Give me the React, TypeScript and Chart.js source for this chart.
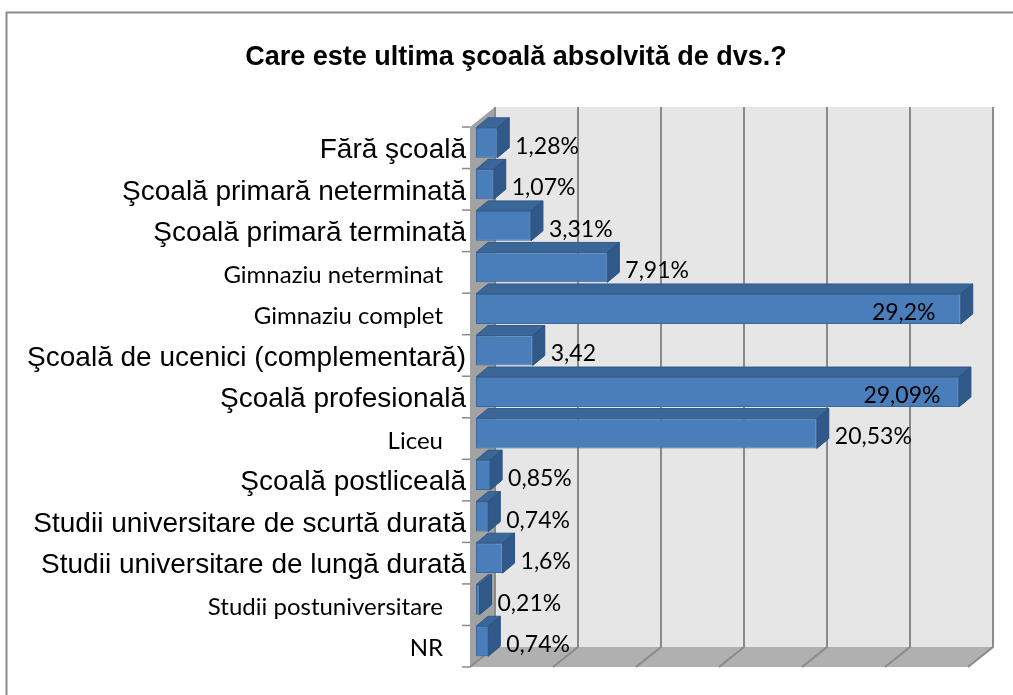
import React, { useEffect, useRef } from 'react';
import { Chart, registerables } from 'chart.js';

Chart.register(...registerables);

// ---------- data ----------
const categories = [
  'Fără şcoală',
  'Şcoală primară neterminată',
  'Şcoală primară terminată',
  'Gimnaziu neterminat',
  'Gimnaziu complet',
  'Şcoală de ucenici (complementară)',
  'Şcoală profesională',
  'Liceu',
  'Şcoală postliceală',
  'Studii universitare de scurtă durată',
  'Studii universitare de lungă durată',
  'Studii postuniversitare',
  'NR',
];
const values = [1.28, 1.07, 3.31, 7.91, 29.2, 3.42, 29.09, 20.53, 0.85, 0.74, 1.6, 0.21, 0.74];
const valueLabels = ['1,28%', '1,07%', '3,31%', '7,91%', '29,2%', '3,42', '29,09%', '20,53%', '0,85%', '0,74%', '1,6%', '0,21%', '0,74%'];
// font style used for each category label in the original
const categoryFontKind = ['sans', 'sans', 'sans', 'calibri', 'calibri', 'sans', 'sans', 'calibri', 'sans', 'sans', 'sans', 'calibri', 'calibri'];
const axisMin = 0;
const axisMax = 30;
const axisStep = 5;
const chartTitle = 'Care este ultima şcoală absolvită de dvs.?';

// ---------- styles ----------
const FRONT = { dx: -6, dy: 5 };   // front plane offset from the bar plane
const BACK = { dx: 19, dy: -15 };  // back wall offset from the bar plane
const BAR_DEPTH = { dx: 12, dy: -10 };
const SANS = '"Liberation Sans", Arial, sans-serif';
const CALIBRI = 'Lato, "Open Sans", sans-serif';

const poly = (ctx: CanvasRenderingContext2D, pts: number[][], fill: string, stroke?: string) => {
  ctx.beginPath();
  ctx.moveTo(pts[0][0], pts[0][1]);
  for (let i = 1; i < pts.length; i++) ctx.lineTo(pts[i][0], pts[i][1]);
  ctx.closePath();
  ctx.fillStyle = fill;
  ctx.fill();
  if (stroke) {
    ctx.strokeStyle = stroke;
    ctx.lineWidth = 1;
    ctx.stroke();
  }
};

const scene3d = {
  id: 'scene3d',
  beforeDraw(chart: any) {
    const { ctx, width, height } = chart;
    ctx.save();
    ctx.fillStyle = '#ffffff';
    ctx.fillRect(0, 0, width, height);
    ctx.strokeStyle = '#8C8C8C';
    ctx.lineWidth = 2;
    ctx.beginPath();
    ctx.moveTo(6.5, height + 5);
    ctx.lineTo(6.5, 12.5);
    ctx.lineTo(width + 5, 12.5);
    ctx.stroke();
    ctx.restore();
  },
  beforeDatasetsDraw(chart: any) {
    const { ctx, chartArea: a } = chart;
    const xs = chart.scales.x;
    const ys = chart.scales.y;
    const x0 = xs.getPixelForValue(axisMin);
    const x1 = xs.getPixelForValue(axisMax);
    ctx.save();
    // back wall
    ctx.fillStyle = '#E6E6E6';
    ctx.fillRect(x0 + BACK.dx, a.top + BACK.dy, x1 - x0, a.bottom - a.top);
    // floor
    poly(ctx, [
      [x0 + FRONT.dx, a.bottom + FRONT.dy],
      [x1 + FRONT.dx, a.bottom + FRONT.dy],
      [x1 + BACK.dx, a.bottom + BACK.dy],
      [x0 + BACK.dx, a.bottom + BACK.dy],
    ], '#B0B0B0');
    // left wall
    poly(ctx, [
      [x0 + FRONT.dx, a.top + FRONT.dy],
      [x0 + BACK.dx, a.top + BACK.dy],
      [x0 + BACK.dx, a.bottom + BACK.dy],
      [x0 + FRONT.dx, a.bottom + FRONT.dy],
    ], '#A2A2A2');
    // grid lines on back wall and floor
    ctx.strokeStyle = '#8A8A8A';
    ctx.lineWidth = 2;
    for (let v = axisMin; v <= axisMax; v += axisStep) {
      const px = xs.getPixelForValue(v);
      ctx.beginPath();
      ctx.moveTo(px + BACK.dx, a.top + BACK.dy);
      ctx.lineTo(px + BACK.dx, a.bottom + BACK.dy);
      ctx.lineTo(px + FRONT.dx, a.bottom + FRONT.dy);
      ctx.stroke();
    }
    // category tick marks on the front edge
    const n = categories.length;
    const band = (a.bottom - a.top) / n;
    ctx.strokeStyle = '#8A8A8A';
    ctx.lineWidth = 1.5;
    for (let i = 0; i <= n; i++) {
      const yy = (i < n ? ys.getPixelForValue(i) - band / 2 : ys.getPixelForValue(n - 1) + band / 2) + FRONT.dy;
      ctx.beginPath();
      ctx.moveTo(x0 + FRONT.dx, yy);
      ctx.lineTo(x0 + FRONT.dx - 8, yy);
      ctx.stroke();
    }
    // bar top & side faces
    const meta = chart.getDatasetMeta(0);
    meta.data.forEach((el: any) => {
      const p = el.getProps(['x', 'y', 'base', 'height'], true);
      const top = p.y - p.height / 2;
      const bot = p.y + p.height / 2;
      poly(ctx, [
        [p.base, top],
        [p.x, top],
        [p.x + BAR_DEPTH.dx, top + BAR_DEPTH.dy],
        [p.base + BAR_DEPTH.dx, top + BAR_DEPTH.dy],
      ], '#3B6698', '#30598A');
      poly(ctx, [
        [p.x, top],
        [p.x + BAR_DEPTH.dx, top + BAR_DEPTH.dy],
        [p.x + BAR_DEPTH.dx, bot + BAR_DEPTH.dy],
        [p.x, bot],
      ], '#30598A', '#2A5080');
    });
    ctx.restore();
  },
  afterDatasetsDraw(chart: any) {
    const { ctx, chartArea: a } = chart;
    const xs = chart.scales.x;
    const ys = chart.scales.y;
    const x0 = xs.getPixelForValue(axisMin);
    ctx.save();
    ctx.fillStyle = '#000000';
    ctx.textBaseline = 'middle';
    // category labels
    categories.forEach((c, i) => {
      const yc = ys.getPixelForValue(i);
      const cal = categoryFontKind[i] === 'calibri';
      ctx.font = cal ? `24px ${CALIBRI}` : `28px ${SANS}`;
      ctx.textAlign = 'right';
      ctx.fillText(c, x0 + FRONT.dx + (cal ? -27 : -4), yc + FRONT.dy + 2.5);
    });
    // value labels
    const meta = chart.getDatasetMeta(0);
    ctx.font = `23px ${CALIBRI}`;
    meta.data.forEach((el: any, i: number) => {
      const p = el.getProps(['x', 'y'], true);
      const txt = valueLabels[i];
      const w = ctx.measureText(txt).width;
      let tx = p.x + 18;
      ctx.textAlign = 'left';
      if (tx + w > a.right) {
        ctx.textAlign = 'center';
        tx = p.x - 57;
      }
      ctx.fillText(txt, tx, p.y + 3.5);
    });
    ctx.restore();
  },
};

export default function App() {
  const ref = useRef<HTMLCanvasElement | null>(null);
  useEffect(() => {
    if (!ref.current) return;
    const chart = new Chart(ref.current, {
      type: 'bar',
      data: {
        labels: categories,
        datasets: [
          {
            data: values,
            backgroundColor: '#4A7EBB',
            borderColor: '#3B6799',
            borderWidth: 1,
            borderSkipped: false,
            barPercentage: 0.72,
            categoryPercentage: 1,
          },
        ],
      },
      options: {
        indexAxis: 'y',
        responsive: false,
        animation: false,
        layout: { padding: { left: 58, right: 39, top: 0, bottom: 33 } },
        scales: {
          x: { type: 'linear', min: axisMin, max: axisMax, display: false, ticks: { stepSize: axisStep } },
          y: {
            display: true,
            grid: { display: false },
            border: { display: false },
            ticks: { display: false },
            afterFit: (s: any) => { s.width = 418; },
          },
        },
        plugins: {
          legend: { display: false },
          tooltip: { enabled: false },
          title: {
            display: true,
            text: chartTitle,
            color: '#000000',
            font: { family: SANS, size: 27, weight: 'bold' },
            padding: { top: 41, bottom: 48.6 },
          },
        },
      },
      plugins: [scene3d],
    });
    return () => chart.destroy();
  }, []);
  return (
    <div style={{ position: 'absolute', left: 0, top: 0, width: 1013, height: 695 }}>
      <canvas ref={ref} width={1013} height={695} style={{ display: 'block' }} />
    </div>
  );
}
